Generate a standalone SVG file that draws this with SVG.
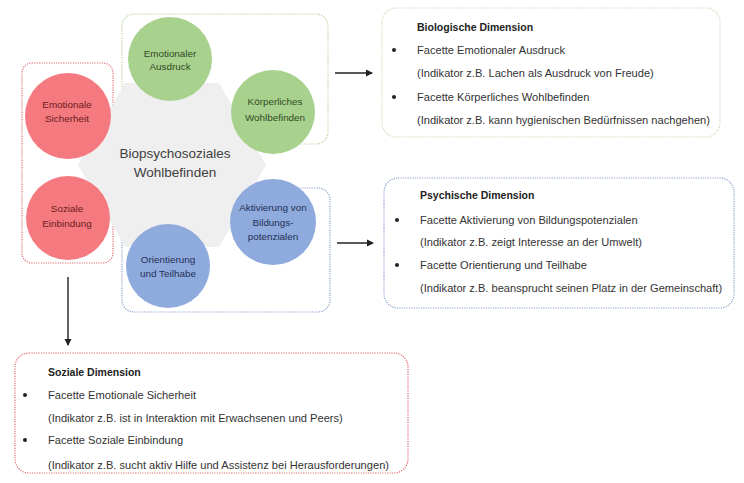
<svg xmlns="http://www.w3.org/2000/svg" width="744" height="483" viewBox="0 0 744 483">
<defs>
<marker id="ah" markerWidth="8" markerHeight="8" refX="6" refY="4" orient="auto" markerUnits="userSpaceOnUse">
<path d="M0,0.5 L7,4 L0,7.5 Z" fill="#222"/>
</marker>
<style>
.box{fill:none;stroke-width:1.2;stroke-dasharray:1.2 1.2}
.g{stroke:#b9d4a0}
.r{stroke:#e46a72}
.b{stroke:#8a9fcc}
.bio{stroke:#c9dcb8}
.cg{fill:#a9d18e}
.cr{fill:#f47a80}
.cb{fill:#8faadc}
.lbl{font-family:"Liberation Sans",Arial,sans-serif;font-size:9.9px;text-anchor:middle}
.tg{fill:#2e4a1e}
.tr{fill:#6b1a1e}
.tb{fill:#1f3056}
.txt{font-family:"Liberation Sans",Arial,sans-serif;font-size:11.1px;fill:#333}
.ttl{font-weight:bold;fill:#222;font-size:10.5px}
.conn{stroke:#222;stroke-width:1.4;fill:none}
</style>
</defs>
<rect width="744" height="483" fill="#fff"/>
<g id="groups">
<rect class="box g" x="122" y="14" width="206" height="130" rx="12"/>
<rect class="box r" x="22" y="63" width="91" height="200" rx="10"/>
<rect class="box b" x="122" y="188" width="208" height="124" rx="12"/>
</g>
<g id="center">
<polygon points="266,165 219,247 125,247 78,165 125,83 219,83" fill="#efefef"/>
<text x="175" y="158" font-family="'Liberation Sans',Arial,sans-serif" font-size="13.5" fill="#404040" text-anchor="middle">Biopsychosoziales</text>
<text x="175" y="177" font-family="'Liberation Sans',Arial,sans-serif" font-size="13.5" fill="#404040" text-anchor="middle">Wohlbefinden</text>
</g>
<g id="emotionaler-ausdruck">
<circle class="cg" cx="170" cy="59" r="42"/>
<text class="lbl tg" x="170" y="57">Emotionaler</text>
<text class="lbl tg" x="170" y="70">Ausdruck</text>
</g>
<g id="koerperliches-wohlbefinden">
<circle class="cg" cx="273" cy="112" r="42"/>
<text class="lbl tg" x="275" y="105">Körperliches</text>
<text class="lbl tg" x="275" y="121">Wohlbefinden</text>
</g>
<g id="emotionale-sicherheit">
<circle class="cr" cx="68" cy="116" r="43"/>
<text class="lbl tr" x="67" y="108">Emotionale</text>
<text class="lbl tr" x="67" y="122">Sicherheit</text>
</g>
<g id="soziale-einbindung">
<circle class="cr" cx="68" cy="218" r="42"/>
<text class="lbl tr" x="67" y="212">Soziale</text>
<text class="lbl tr" x="67" y="227">Einbindung</text>
</g>
<g id="aktivierung">
<circle class="cb" cx="273" cy="222" r="43"/>
<text class="lbl tb" x="273" y="211">Aktivierung von</text>
<text class="lbl tb" x="273" y="226">Bildungs-</text>
<text class="lbl tb" x="273" y="240">potenzialen</text>
</g>
<g id="orientierung">
<circle class="cb" cx="168" cy="266" r="42"/>
<text class="lbl tb" x="168" y="263">Orientierung</text>
<text class="lbl tb" x="168" y="277">und Teilhabe</text>
</g>
<g id="connectors">
<line class="conn" x1="335" y1="73" x2="372" y2="73" marker-end="url(#ah)"/>
<line class="conn" x1="337" y1="243" x2="373" y2="243" marker-end="url(#ah)"/>
<line class="conn" x1="68" y1="277" x2="68" y2="345" marker-end="url(#ah)"/>
</g>
<g id="biologische-dimension">
<rect class="box bio" x="382" y="8" width="338" height="129" rx="14"/>
<text class="txt ttl" x="417" y="31">Biologische Dimension</text>
<circle cx="394" cy="50" r="2" fill="#222"/>
<text class="txt" x="417" y="54">Facette Emotionaler Ausdruck</text>
<text class="txt" x="417" y="77">(Indikator z.B. Lachen als Ausdruck von Freude)</text>
<circle cx="394" cy="97" r="2" fill="#222"/>
<text class="txt" x="417" y="101">Facette Körperliches Wohlbefinden</text>
<text class="txt" x="417" y="124">(Indikator z.B. kann hygienischen Bedürfnissen nachgehen)</text>
</g>
<g id="psychische-dimension">
<rect class="box b" x="384" y="178" width="350" height="130" rx="14"/>
<text class="txt ttl" x="420" y="199">Psychische Dimension</text>
<circle cx="397" cy="220" r="2" fill="#222"/>
<text class="txt" x="420" y="224">Facette Aktivierung von Bildungspotenzialen</text>
<text class="txt" x="420" y="246">(Indikator z.B. zeigt Interesse an der Umwelt)</text>
<circle cx="397" cy="265" r="2" fill="#222"/>
<text class="txt" x="420" y="269">Facette Orientierung und Teilhabe</text>
<text class="txt" x="420" y="292">(Indikator z.B. beansprucht seinen Platz in der Gemeinschaft)</text>
</g>
<g id="soziale-dimension">
<rect class="box r" x="15" y="353" width="393" height="120" rx="14"/>
<text class="txt ttl" x="48" y="376">Soziale Dimension</text>
<circle cx="25" cy="395" r="2" fill="#222"/>
<text class="txt" x="48" y="399">Facette Emotionale Sicherheit</text>
<text class="txt" x="48" y="422">(Indikator z.B. ist in Interaktion mit Erwachsenen und Peers)</text>
<circle cx="25" cy="440" r="2" fill="#222"/>
<text class="txt" x="48" y="444">Facette Soziale Einbindung</text>
<text class="txt" x="48" y="469">(Indikator z.B. sucht aktiv Hilfe und Assistenz bei Herausforderungen)</text>
</g>
</svg>
